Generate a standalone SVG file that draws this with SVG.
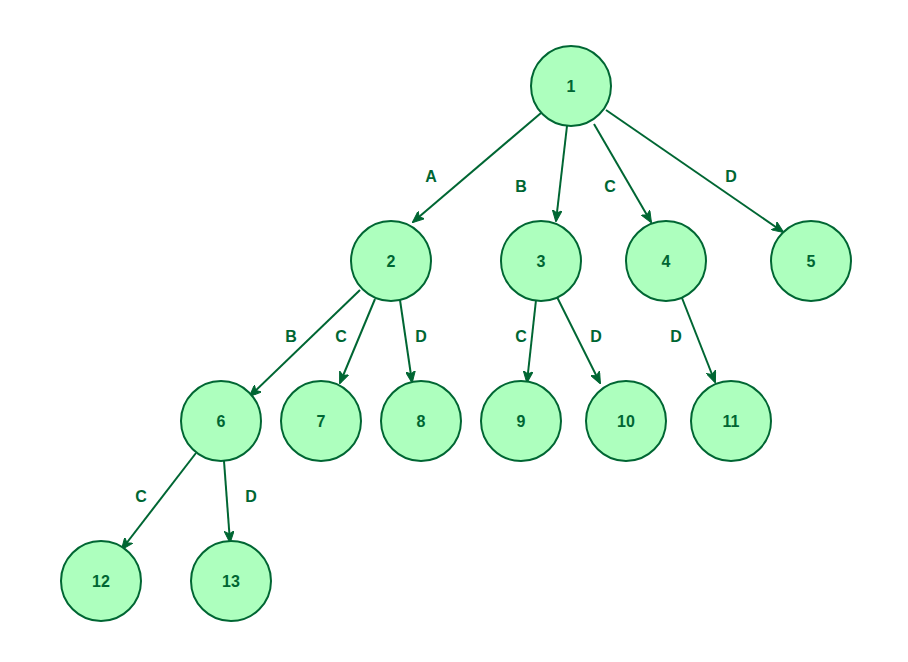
<svg xmlns="http://www.w3.org/2000/svg" width="908" height="662" viewBox="0 0 908 662">
<style>
.n circle{fill:#ADFFBE;stroke:#006633;stroke-width:2}
text{font-family:"Liberation Sans",Arial,sans-serif;font-weight:bold;font-size:16px;fill:#006633;text-anchor:middle;dominant-baseline:central}
.e line{stroke:#006633;stroke-width:2;fill:none;marker-end:url(#ah)}
</style>
<defs>
<marker id="ah" viewBox="0 0 12 10" markerWidth="12" markerHeight="10" refX="11" refY="5" orient="auto" markerUnits="userSpaceOnUse">
<path d="M0,0 L12,5 L0,10 L3,5 Z" fill="#006633" stroke="#006633" stroke-width="1"/>
</marker>
</defs>
<rect width="908" height="662" fill="#ffffff"/>
<g id="connectors" class="e">
<line x1="541" y1="113" x2="413" y2="222"/>
<line x1="567" y1="126" x2="556" y2="221"/>
<line x1="594" y1="124" x2="651" y2="222"/>
<line x1="606" y1="110" x2="783" y2="232"/>
<line x1="360" y1="290" x2="250" y2="396"/>
<line x1="375" y1="299" x2="340" y2="383"/>
<line x1="400" y1="300" x2="412" y2="382"/>
<line x1="536" y1="300" x2="527" y2="382"/>
<line x1="557" y1="297" x2="600" y2="383"/>
<line x1="682" y1="298" x2="715" y2="382"/>
<line x1="196" y1="453" x2="122" y2="549"/>
<line x1="224" y1="461" x2="230" y2="542"/>
</g>
<g id="edge-labels">
<text x="431" y="176">A</text>
<text x="521" y="186">B</text>
<text x="610" y="186">C</text>
<text x="731" y="176">D</text>
<text x="291" y="336">B</text>
<text x="341" y="336">C</text>
<text x="421" y="336">D</text>
<text x="521" y="336">C</text>
<text x="596" y="336">D</text>
<text x="676" y="336">D</text>
<text x="141" y="496">C</text>
<text x="251" y="496">D</text>
</g>
<g id="n1" class="n"><circle cx="571" cy="86" r="40"/><text x="571" y="86">1</text></g>
<g id="n2" class="n"><circle cx="391" cy="261" r="40"/><text x="391" y="261">2</text></g>
<g id="n3" class="n"><circle cx="541" cy="261" r="40"/><text x="541" y="261">3</text></g>
<g id="n4" class="n"><circle cx="666" cy="261" r="40"/><text x="666" y="261">4</text></g>
<g id="n5" class="n"><circle cx="811" cy="261" r="40"/><text x="811" y="261">5</text></g>
<g id="n6" class="n"><circle cx="221" cy="421" r="40"/><text x="221" y="421">6</text></g>
<g id="n7" class="n"><circle cx="321" cy="421" r="40"/><text x="321" y="421">7</text></g>
<g id="n8" class="n"><circle cx="421" cy="421" r="40"/><text x="421" y="421">8</text></g>
<g id="n9" class="n"><circle cx="521" cy="421" r="40"/><text x="521" y="421">9</text></g>
<g id="n10" class="n"><circle cx="626" cy="421" r="40"/><text x="626" y="421">10</text></g>
<g id="n11" class="n"><circle cx="731" cy="421" r="40"/><text x="731" y="421">11</text></g>
<g id="n12" class="n"><circle cx="101" cy="581" r="40"/><text x="101" y="581">12</text></g>
<g id="n13" class="n"><circle cx="231" cy="581" r="40"/><text x="231" y="581">13</text></g>
</svg>
